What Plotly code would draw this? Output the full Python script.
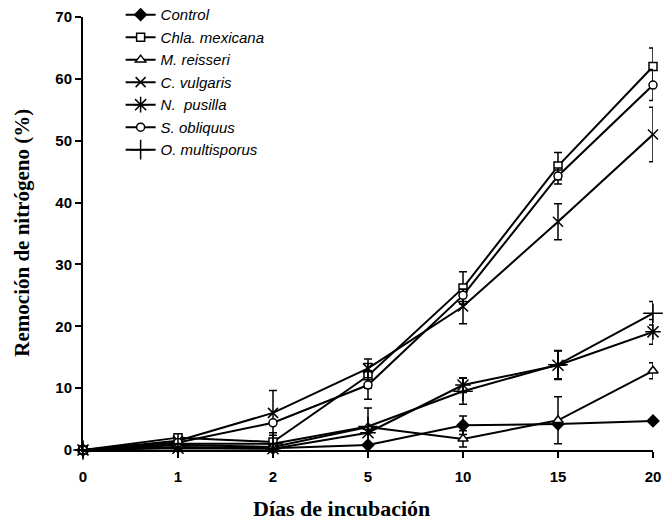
import plotly.graph_objects as go

# Incubation days (plotted as evenly spaced categories)
days = ["0", "1", "2", "5", "10", "15", "20"]

# Nitrogen removal (%) per strain
control = [0, 0.5, 0.3, 0.8, 4.0, 4.2, 4.7]
chla_mexicana = [0, 2.0, 1.3, 12.0, 26.2, 45.9, 62.0]
m_reisseri = [0, 0.8, 0.5, 3.7, 1.8, 4.8, 12.8]
c_vulgaris = [0, 1.5, 6.0, 13.2, 23.2, 36.9, 51.0]
n_pusilla = [0, 0.3, 0.2, 2.8, 10.5, 13.7, 19.1]
s_obliquus = [0, 1.2, 4.4, 10.5, 25.0, 44.3, 59.0]
o_multisporus = [0, 1.0, 1.0, 3.8, 9.5, 13.8, 22.1]

# Standard deviations
control_sd = [0, 0, 0, 0, 1.5, 0, 0]
chla_mexicana_sd = [0, 0.4, 0, 2.0, 2.6, 2.2, 3.0]
m_reisseri_sd = [0, 0, 0, 0, 1.3, 3.8, 1.3]
c_vulgaris_sd = [0, 0, 3.6, 1.5, 2.8, 2.9, 4.4]
n_pusilla_sd = [0, 0, 0, 0, 1.2, 2.3, 2.0]
s_obliquus_sd = [0, 0, 0, 2.3, 1.0, 1.3, 2.5]
o_multisporus_sd = [0, 0, 1.8, 3.0, 2.1, 2.3, 1.9]

series = [
    ("Control", control, control_sd, "diamond", "black", 9),
    ("Chla. mexicana", chla_mexicana, chla_mexicana_sd, "square", "white", 8),
    ("M. reisseri", m_reisseri, m_reisseri_sd, "triangle-up", "white", 9),
    ("C. vulgaris", c_vulgaris, c_vulgaris_sd, "x-thin-open", "black", 10),
    ("N.  pusilla", n_pusilla, n_pusilla_sd, "asterisk-open", "black", 13),
    ("S. obliquus", s_obliquus, s_obliquus_sd, "circle", "white", 8),
    ("O. multisporus", o_multisporus, o_multisporus_sd, "cross-thin-open", "black", 14),
]

xpos = list(range(len(days)))

fig = go.Figure()
for name, vals, sd, sym, fill, size in series:
    fig.add_trace(go.Scatter(
        x=xpos, y=vals, name=name, mode="lines+markers",
        line=dict(color="black", width=2),
        marker=dict(symbol=sym, size=size, color=fill,
                    line=dict(color="black", width=1.5)),
        error_y=dict(type="data", array=sd, visible=True,
                     color="black", thickness=1.5, width=4),
        cliponaxis=False,
    ))

fig.update_layout(
    width=665, height=521,
    margin=dict(l=83, r=12, t=17, b=71, autoexpand=False),
    paper_bgcolor="white", plot_bgcolor="white",
    showlegend=True,
    legend=dict(
        x=0.066, y=1.043, xanchor="left", yanchor="top",
        bgcolor="rgba(0,0,0,0)",
        font=dict(family="Liberation Sans, Arial", size=15, color="black",
                  style="italic"),
        tracegroupgap=0,
    ),
    xaxis=dict(
        range=[0, 6], tickmode="array", tickvals=xpos, ticktext=days,
        showline=True, linecolor="black", linewidth=2,
        ticks="outside", ticklen=6, tickwidth=2, tickcolor="black",
        ticklabelstandoff=6,
        showgrid=False, zeroline=False, automargin=False,
        tickfont=dict(family="Liberation Sans, Arial", size=15, color="black",
                      weight="bold"),
    ),
    yaxis=dict(
        range=[0, 70], dtick=10,
        showline=True, linecolor="black", linewidth=2,
        ticks="outside", ticklen=6, tickwidth=2, tickcolor="black",
        showgrid=False, zeroline=False, automargin=False,
        tickfont=dict(family="Liberation Sans, Arial", size=15, color="black",
                      weight="bold"),
    ),
    annotations=[
        dict(text="Días de incubación", xref="paper", yref="paper",
             x=0.453, y=0, yshift=-58, xanchor="center", yanchor="middle",
             showarrow=False,
             font=dict(family="Liberation Serif, Times New Roman",
                       size=22, color="black", weight="bold")),
        dict(text="Remoción de nitrógeno (%)", xref="paper", yref="paper",
             x=0, xshift=-61, y=0.502, xanchor="center", yanchor="middle",
             textangle=-90, showarrow=False,
             font=dict(family="Liberation Serif, Times New Roman",
                       size=21, color="black", weight="bold")),
    ],
)

fig.write_html("out.html")
